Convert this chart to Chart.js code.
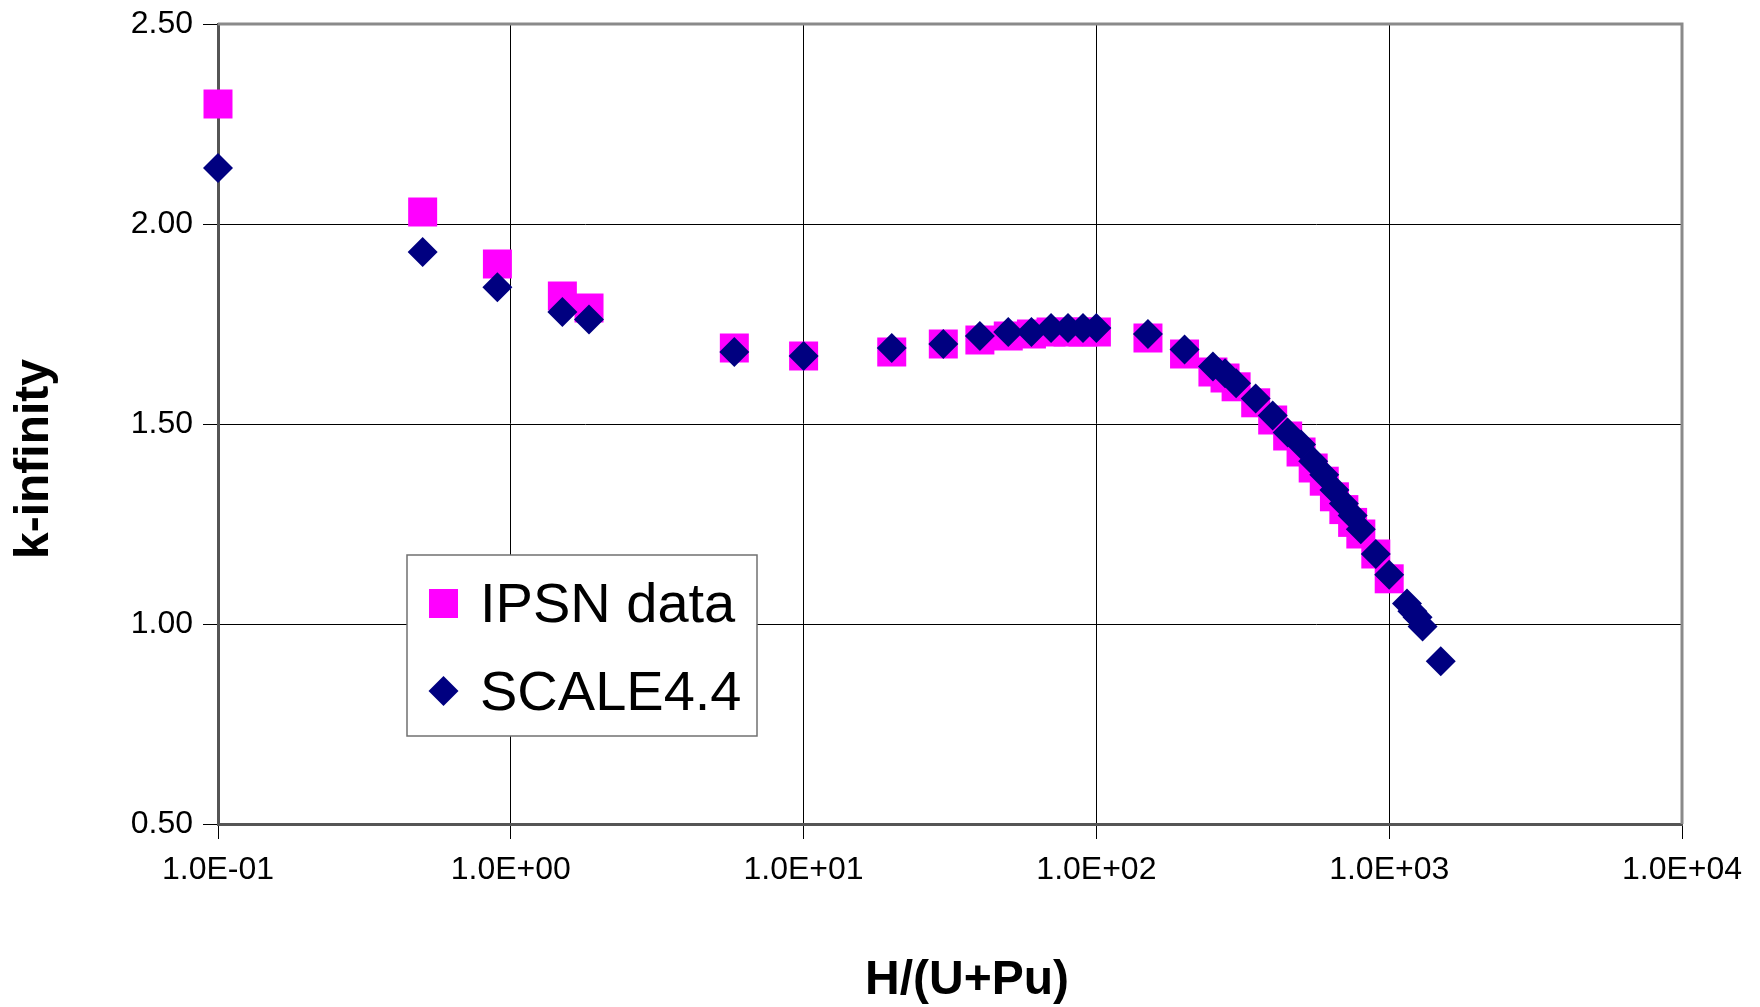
<!DOCTYPE html>
<html>
<head>
<meta charset="utf-8">
<script src="https://cdn.jsdelivr.net/npm/chart.js@4.4.0/dist/chart.umd.min.js"></script>
<style>
  html, body { margin: 0; padding: 0; background: #fff; }
  #wrap { width: 1760px; height: 1007px; }
</style>
</head>
<body>
<div id="wrap"><canvas id="kinfChart" width="1760" height="1007"></canvas></div>
<script>
// H/(U+Pu) values (SCALE has a few extra points past 1000)
const hRatio = [0.1, 0.5, 0.9, 1.5, 1.85, 5.8, 10, 20, 30, 40, 50, 60, 70, 80, 90, 100,
    150, 200, 250, 275, 300, 350, 400, 450, 500, 550, 600, 650, 700, 750, 800, 900, 1000,
    1150, 1200, 1250, 1300, 1500];
const ipsnK = [2.30, 2.03, 1.90, 1.82, 1.79, 1.69, 1.67, 1.68, 1.70, 1.71, 1.72, 1.725, 1.73, 1.73, 1.73, 1.73,
    1.715, 1.675, 1.63, 1.615, 1.593, 1.553, 1.51, 1.47, 1.43, 1.39, 1.357, 1.318, 1.286, 1.254, 1.225, 1.175, 1.113];
const scaleK = [2.14, 1.93, 1.842, 1.78, 1.761, 1.68, 1.67, 1.69, 1.70, 1.72, 1.73, 1.73, 1.74, 1.74, 1.74, 1.74,
    1.725, 1.686, 1.644, 1.627, 1.602, 1.564, 1.521, 1.479, 1.449, 1.407, 1.373, 1.335, 1.301, 1.271, 1.237, 1.175, 1.123,
    1.051, 1.032, 1.017, 0.994, 0.907];
const xTicks = [0.1, 1, 10, 100, 1000, 10000];
const yTicks = [0.5, 1.0, 1.5, 2.0, 2.5];
const seriesNames = ['IPSN data', 'SCALE4.4'];
const seriesColors = ['#ff00ff', '#000080'];
const xTitle = 'H/(U+Pu)';
const yTitle = 'k-infinity';

const FONT = '"Liberation Sans", Arial, sans-serif';

function toPoints(ys) {
    return ys.map((y, i) => ({ x: hRatio[i], y: y }));
}

function sciLabel(v) {
    const e = Math.round(Math.log10(v));
    return '1.0E' + (e < 0 ? '-' : '+') + String(Math.abs(e)).padStart(2, '0');
}

// frame, axis titles and the boxed legend inside the plot
const decorPlugin = {
    id: 'decor',
    afterDatasetsDraw(chart) {
        const ctx = chart.ctx;
        const a = chart.chartArea;
        ctx.save();
        // grey plot frame (top / right)
        ctx.strokeStyle = '#8a8a8a';
        ctx.lineWidth = 3;
        ctx.beginPath();
        ctx.moveTo(a.left, a.top);
        ctx.lineTo(a.right, a.top);
        ctx.lineTo(a.right, a.bottom);
        ctx.stroke();

        // legend box
        const bx = 407, by = 555, bw = 350, bh = 181;
        ctx.fillStyle = '#fff';
        ctx.fillRect(bx, by, bw, bh);
        ctx.strokeStyle = '#707070';
        ctx.lineWidth = 1.5;
        ctx.strokeRect(bx, by, bw, bh);

        ctx.fillStyle = seriesColors[0];
        ctx.fillRect(bx + 22, by + 34, 29, 29);
        ctx.fillStyle = seriesColors[1];
        ctx.beginPath();
        const dx = bx + 36.5, dy = by + 136;
        ctx.moveTo(dx - 15, dy);
        ctx.lineTo(dx, dy - 15);
        ctx.lineTo(dx + 15, dy);
        ctx.lineTo(dx, dy + 15);
        ctx.closePath();
        ctx.fill();

        ctx.fillStyle = '#000';
        ctx.font = '56px ' + FONT;
        ctx.textAlign = 'left';
        ctx.textBaseline = 'alphabetic';
        ctx.fillText(seriesNames[0], bx + 73, by + 67);
        ctx.fillText(seriesNames[1], bx + 73, by + 155);

        // axis titles
        ctx.font = 'bold 48px ' + FONT;
        ctx.textAlign = 'center';
        ctx.fillText(xTitle, 967, 994);
        ctx.translate(48, 459);
        ctx.rotate(-Math.PI / 2);
        ctx.fillText(yTitle, 0, 0);
        ctx.restore();
    }
};

const ctx = document.getElementById('kinfChart').getContext('2d');
const chart = new Chart(ctx, {
    type: 'scatter',
    data: {
        datasets: [
            {
                label: seriesNames[0],
                data: toPoints(ipsnK),
                backgroundColor: seriesColors[0],
                borderColor: seriesColors[0],
                borderWidth: 0,
                pointStyle: 'rect',
                pointRadius: 20.5,
                pointHoverRadius: 20.5,
                clip: false,
                order: 1
            },
            {
                label: seriesNames[1],
                data: toPoints(scaleK),
                backgroundColor: seriesColors[1],
                borderColor: seriesColors[1],
                borderWidth: 0,
                pointStyle: 'rectRot',
                pointRadius: 15,
                pointHoverRadius: 15,
                clip: false,
                order: 0
            }
        ]
    },
    options: {
        responsive: false,
        animation: false,
        layout: { padding: { top: 24, right: 78, left: 0, bottom: 0 } },
        plugins: {
            legend: { display: false },
            tooltip: { enabled: false }
        },
        scales: {
            x: {
                type: 'logarithmic',
                min: 0.1,
                max: 10000,
                afterBuildTicks: scale => {
                    scale.ticks = xTicks.map(v => ({ value: v }));
                },
                afterFit: scale => { scale.height = 183; },
                ticks: {
                    color: '#000',
                    font: { family: FONT, size: 32 },
                    padding: 12,
                    maxRotation: 0,
                    autoSkip: false,
                    callback: v => sciLabel(v)
                },
                grid: { color: '#000', lineWidth: 1, tickLength: 15, tickColor: '#000' },
                border: { color: '#555', width: 3 }
            },
            y: {
                type: 'linear',
                min: 0.5,
                max: 2.5,
                afterBuildTicks: scale => {
                    scale.ticks = yTicks.map(v => ({ value: v }));
                },
                afterFit: scale => {
                    scale.width = 218;
                    scale.paddingTop = 0;
                    scale.paddingBottom = 0;
                },
                ticks: {
                    color: '#000',
                    font: { family: FONT, size: 32 },
                    padding: 10,
                    callback: v => Number(v).toFixed(2)
                },
                grid: { color: '#000', lineWidth: 1, tickLength: 15, tickColor: '#000' },
                border: { color: '#555', width: 3 }
            }
        }
    },
    plugins: [decorPlugin]
});
</script>
</body>
</html>
